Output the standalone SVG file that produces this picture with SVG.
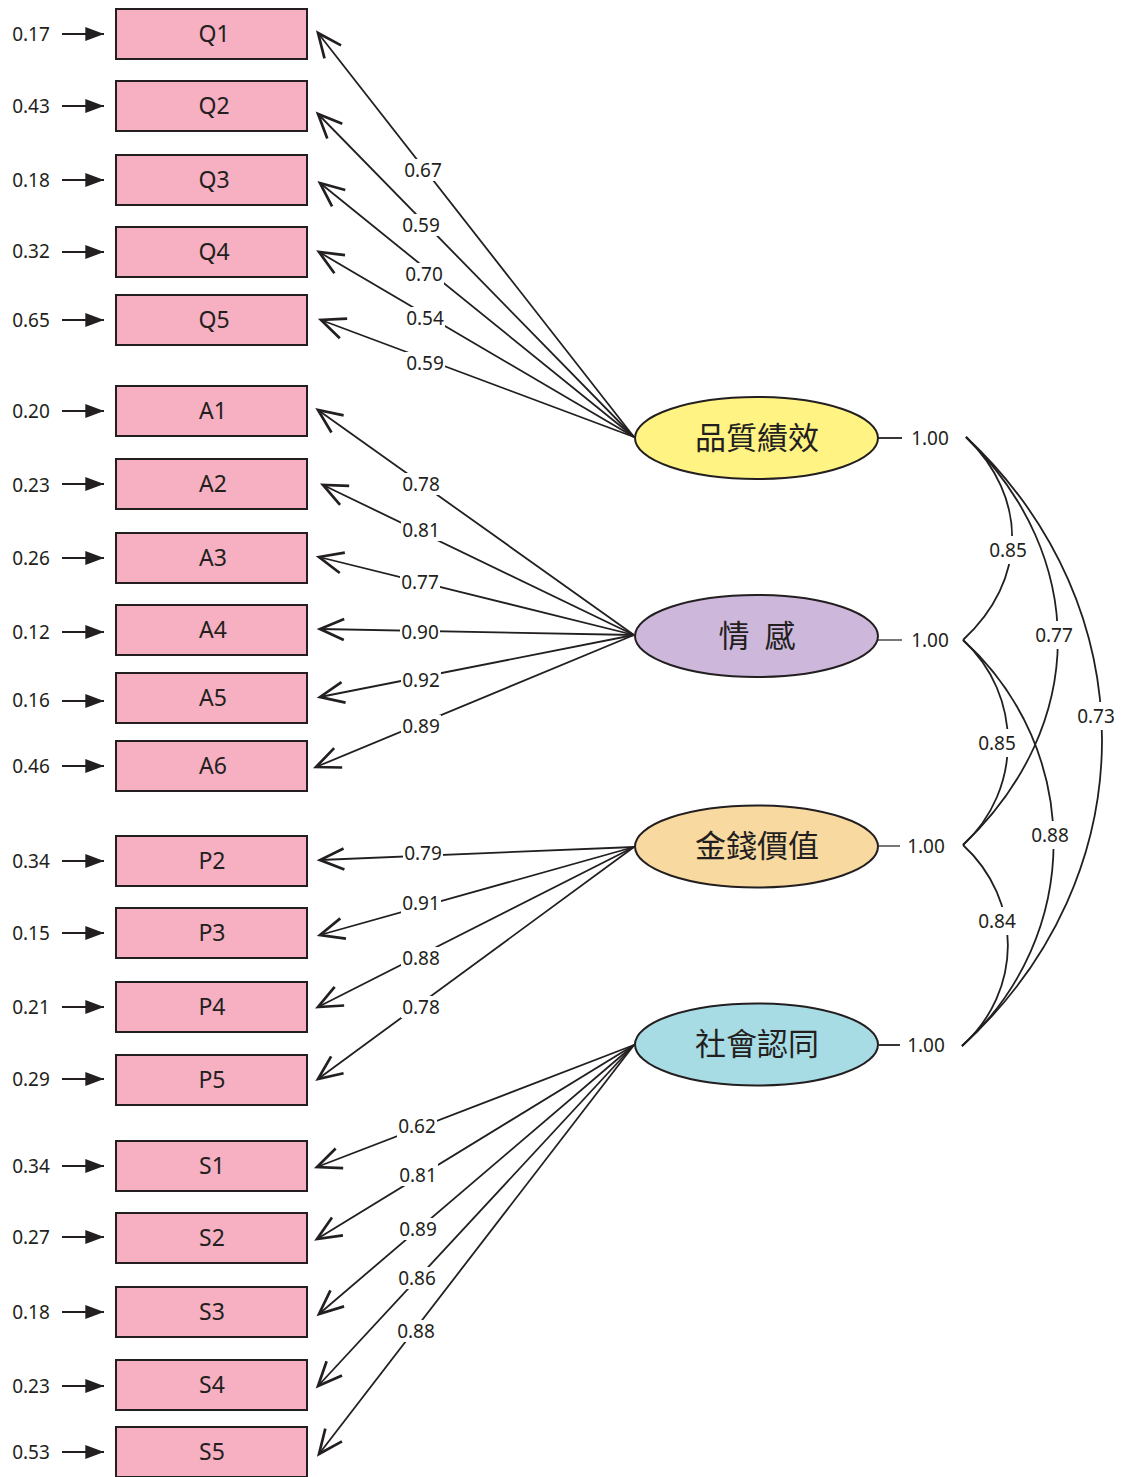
<svg xmlns="http://www.w3.org/2000/svg" width="1123" height="1477" viewBox="0 0 1123 1477">
<defs>
<style>
.box{fill:#F6B0C2;stroke:#231F20;stroke-width:2}
.bt{font-family:"Noto Sans","Liberation Sans",sans-serif;font-size:23px;fill:#231F20;text-anchor:middle}
.num{font-family:"Noto Sans","Liberation Sans",sans-serif;font-size:19px;fill:#231F20;text-anchor:middle}
.lat{font-family:"Noto Sans CJK TC","Noto Sans CJK SC",sans-serif;font-size:31px;fill:#231F20;text-anchor:middle}
.ell{stroke:#231F20;stroke-width:2}
.ln{stroke:#231F20;stroke-width:1.8;fill:none}
.ld{stroke:#231F20;stroke-width:1.8;fill:none;marker-start:url(#open)}
.er{stroke:#231F20;stroke-width:2;fill:none;marker-end:url(#solid)}
.bg{fill:#FFFFFF}
</style>
<marker id="open" markerUnits="userSpaceOnUse" markerWidth="30" markerHeight="30" viewBox="-2 -10 20 20" refX="0" refY="0" orient="auto" overflow="visible">
<path d="M16,-7 L0,0 L16,7" fill="none" stroke="#231F20" stroke-width="1.8"/>
</marker>
<marker id="solid" markerUnits="userSpaceOnUse" markerWidth="20" markerHeight="14" viewBox="0 -6 16 12" refX="16" refY="0" orient="auto" overflow="visible">
<path d="M0,-6 L16,0 L0,6 Z" fill="#231F20"/>
</marker>
</defs>
<rect width="1123" height="1477" fill="#FFFFFF"/>

<g id="connectors">
<!-- error arrows -->
<g id="errors">
<line class="er" x1="62" y1="34" x2="104" y2="34"/>
<line class="er" x1="62" y1="106" x2="104" y2="106"/>
<line class="er" x1="62" y1="180" x2="104" y2="180"/>
<line class="er" x1="62" y1="252" x2="104" y2="252"/>
<line class="er" x1="62" y1="320" x2="104" y2="320"/>
<line class="er" x1="62" y1="411" x2="104" y2="411"/>
<line class="er" x1="62" y1="484" x2="104" y2="484"/>
<line class="er" x1="62" y1="558" x2="104" y2="558"/>
<line class="er" x1="62" y1="632" x2="104" y2="632"/>
<line class="er" x1="62" y1="701" x2="104" y2="701"/>
<line class="er" x1="62" y1="766" x2="104" y2="766"/>
<line class="er" x1="62" y1="861" x2="104" y2="861"/>
<line class="er" x1="62" y1="933" x2="104" y2="933"/>
<line class="er" x1="62" y1="1007" x2="104" y2="1007"/>
<line class="er" x1="62" y1="1079" x2="104" y2="1079"/>
<line class="er" x1="62" y1="1166" x2="104" y2="1166"/>
<line class="er" x1="62" y1="1237" x2="104" y2="1237"/>
<line class="er" x1="62" y1="1312" x2="104" y2="1312"/>
<line class="er" x1="62" y1="1386" x2="104" y2="1386"/>
<line class="er" x1="62" y1="1452" x2="104" y2="1452"/>
</g>
<g id="loadings">
<line class="ld" x1="318" y1="33" x2="634" y2="437"/>
<line class="ld" x1="318" y1="114" x2="634" y2="437"/>
<line class="ld" x1="320" y1="183" x2="634" y2="437"/>
<line class="ld" x1="319" y1="252" x2="634" y2="437"/>
<line class="ld" x1="321" y1="320" x2="634" y2="437"/>
<line class="ld" x1="318" y1="410" x2="634" y2="635"/>
<line class="ld" x1="323" y1="485" x2="634" y2="635"/>
<line class="ld" x1="319" y1="557" x2="634" y2="635"/>
<line class="ld" x1="320" y1="629" x2="634" y2="635"/>
<line class="ld" x1="320" y1="697" x2="634" y2="635"/>
<line class="ld" x1="316" y1="767" x2="634" y2="635"/>
<line class="ld" x1="320" y1="860" x2="634" y2="847"/>
<line class="ld" x1="320" y1="935" x2="634" y2="847"/>
<line class="ld" x1="318" y1="1007" x2="634" y2="847"/>
<line class="ld" x1="318" y1="1079" x2="634" y2="847"/>
<line class="ld" x1="317" y1="1167" x2="634" y2="1045"/>
<line class="ld" x1="317" y1="1239" x2="634" y2="1045"/>
<line class="ld" x1="319" y1="1314" x2="634" y2="1045"/>
<line class="ld" x1="318" y1="1386" x2="634" y2="1045"/>
<line class="ld" x1="319" y1="1454" x2="634" y2="1045"/>
</g>
<g id="variances">
<line class="ln" x1="878" y1="438" x2="902" y2="438"/>
<line x1="878" y1="640" x2="902" y2="640" stroke="#777" stroke-width="2"/>
<line x1="879" y1="846" x2="900" y2="846" stroke="#777" stroke-width="2"/>
<line class="ln" x1="879" y1="1045" x2="900" y2="1045"/>
</g>
<g id="correlations">
<path class="ln" d="M966,437 C1028,497 1028,580 963,640"/>
<path class="ln" d="M966,437 C1089,557 1089,725 963,845"/>
<path class="ln" d="M966,437 C1148,607 1148,876 962,1046"/>
<path class="ln" d="M963,640 C1023,695 1023,790 963,845"/>
<path class="ln" d="M963,640 C1084,750 1084,936 962,1046"/>
<path class="ln" d="M963,845 C1023,900 1023,991 962,1046"/>
</g>
<g id="loading-labels">
<rect class="bg" x="403" y="159" width="40" height="22"/><text class="num" x="423" y="177">0.67</text>
<rect class="bg" x="401" y="214" width="40" height="22"/><text class="num" x="421" y="232">0.59</text>
<rect class="bg" x="404" y="263" width="40" height="22"/><text class="num" x="424" y="281">0.70</text>
<rect class="bg" x="405" y="307" width="40" height="22"/><text class="num" x="425" y="325">0.54</text>
<rect class="bg" x="405" y="352" width="40" height="22"/><text class="num" x="425" y="370">0.59</text>
<rect class="bg" x="401" y="473" width="40" height="22"/><text class="num" x="421" y="491">0.78</text>
<rect class="bg" x="401" y="519" width="40" height="22"/><text class="num" x="421" y="537">0.81</text>
<rect class="bg" x="400" y="571" width="40" height="22"/><text class="num" x="420" y="589">0.77</text>
<rect class="bg" x="400" y="621" width="40" height="22"/><text class="num" x="420" y="639">0.90</text>
<rect class="bg" x="401" y="669" width="40" height="22"/><text class="num" x="421" y="687">0.92</text>
<rect class="bg" x="401" y="715" width="40" height="22"/><text class="num" x="421" y="733">0.89</text>
<rect class="bg" x="403" y="842" width="40" height="22"/><text class="num" x="423" y="860">0.79</text>
<rect class="bg" x="401" y="892" width="40" height="22"/><text class="num" x="421" y="910">0.91</text>
<rect class="bg" x="401" y="947" width="40" height="22"/><text class="num" x="421" y="965">0.88</text>
<rect class="bg" x="401" y="996" width="40" height="22"/><text class="num" x="421" y="1014">0.78</text>
<rect class="bg" x="397" y="1115" width="40" height="22"/><text class="num" x="417" y="1133">0.62</text>
<rect class="bg" x="398" y="1164" width="40" height="22"/><text class="num" x="418" y="1182">0.81</text>
<rect class="bg" x="398" y="1218" width="40" height="22"/><text class="num" x="418" y="1236">0.89</text>
<rect class="bg" x="397" y="1267" width="40" height="22"/><text class="num" x="417" y="1285">0.86</text>
<rect class="bg" x="396" y="1320" width="40" height="22"/><text class="num" x="416" y="1338">0.88</text>
</g>
<g id="correlation-labels">
<rect class="bg" x="988" y="536" width="40" height="28"/><text class="num" x="1008" y="557">0.85</text>
<rect class="bg" x="1034" y="621" width="40" height="28"/><text class="num" x="1054" y="642">0.77</text>
<rect class="bg" x="1076" y="702" width="40" height="28"/><text class="num" x="1096" y="723">0.73</text>
<rect class="bg" x="977" y="729" width="40" height="28"/><text class="num" x="997" y="750">0.85</text>
<rect class="bg" x="1030" y="821" width="40" height="28"/><text class="num" x="1050" y="842">0.88</text>
<rect class="bg" x="977" y="907" width="40" height="28"/><text class="num" x="997" y="928">0.84</text>
</g>
</g>

<g id="error-labels">
<text class="num" x="31" y="41">0.17</text>
<text class="num" x="31" y="113">0.43</text>
<text class="num" x="31" y="187">0.18</text>
<text class="num" x="31" y="258">0.32</text>
<text class="num" x="31" y="327">0.65</text>
<text class="num" x="31" y="418">0.20</text>
<text class="num" x="31" y="492">0.23</text>
<text class="num" x="31" y="565">0.26</text>
<text class="num" x="31" y="639">0.12</text>
<text class="num" x="31" y="707">0.16</text>
<text class="num" x="31" y="773">0.46</text>
<text class="num" x="31" y="868">0.34</text>
<text class="num" x="31" y="940">0.15</text>
<text class="num" x="31" y="1014">0.21</text>
<text class="num" x="31" y="1086">0.29</text>
<text class="num" x="31" y="1173">0.34</text>
<text class="num" x="31" y="1244">0.27</text>
<text class="num" x="31" y="1319">0.18</text>
<text class="num" x="31" y="1393">0.23</text>
<text class="num" x="31" y="1459">0.53</text>
</g>

<g id="Q1"><rect class="box" x="116" y="9" width="191" height="50"/><text class="bt" x="214" y="42">Q1</text></g>
<g id="Q2"><rect class="box" x="116" y="81" width="191" height="50"/><text class="bt" x="214" y="114">Q2</text></g>
<g id="Q3"><rect class="box" x="116" y="155" width="191" height="50"/><text class="bt" x="214" y="188">Q3</text></g>
<g id="Q4"><rect class="box" x="116" y="227" width="191" height="50"/><text class="bt" x="214" y="260">Q4</text></g>
<g id="Q5"><rect class="box" x="116" y="295" width="191" height="50"/><text class="bt" x="214" y="328">Q5</text></g>
<g id="A1"><rect class="box" x="116" y="386" width="191" height="50"/><text class="bt" x="213" y="419">A1</text></g>
<g id="A2"><rect class="box" x="116" y="459" width="191" height="50"/><text class="bt" x="213" y="492">A2</text></g>
<g id="A3"><rect class="box" x="116" y="533" width="191" height="50"/><text class="bt" x="213" y="566">A3</text></g>
<g id="A4"><rect class="box" x="116" y="605" width="191" height="50"/><text class="bt" x="213" y="638">A4</text></g>
<g id="A5"><rect class="box" x="116" y="673" width="191" height="50"/><text class="bt" x="213" y="706">A5</text></g>
<g id="A6"><rect class="box" x="116" y="741" width="191" height="50"/><text class="bt" x="213" y="774">A6</text></g>
<g id="P2"><rect class="box" x="116" y="836" width="191" height="50"/><text class="bt" x="212" y="869">P2</text></g>
<g id="P3"><rect class="box" x="116" y="908" width="191" height="50"/><text class="bt" x="212" y="941">P3</text></g>
<g id="P4"><rect class="box" x="116" y="982" width="191" height="50"/><text class="bt" x="212" y="1015">P4</text></g>
<g id="P5"><rect class="box" x="116" y="1055" width="191" height="50"/><text class="bt" x="212" y="1088">P5</text></g>
<g id="S1"><rect class="box" x="116" y="1141" width="191" height="50"/><text class="bt" x="212" y="1174">S1</text></g>
<g id="S2"><rect class="box" x="116" y="1213" width="191" height="50"/><text class="bt" x="212" y="1246">S2</text></g>
<g id="S3"><rect class="box" x="116" y="1287" width="191" height="50"/><text class="bt" x="212" y="1320">S3</text></g>
<g id="S4"><rect class="box" x="116" y="1360" width="191" height="50"/><text class="bt" x="212" y="1393">S4</text></g>
<g id="S5"><rect class="box" x="116" y="1427" width="191" height="50"/><text class="bt" x="212" y="1460">S5</text></g>

<g id="F1"><ellipse class="ell" cx="756.5" cy="438" rx="121.5" ry="41" fill="#FFF383"/><text class="lat" x="757" y="449">品質績效</text></g>
<g id="F2"><ellipse class="ell" cx="756.5" cy="636" rx="121.5" ry="41" fill="#CDB8DC"/><text class="lat" x="757" y="647" word-spacing="8">情 感</text></g>
<g id="F3"><ellipse class="ell" cx="756.5" cy="846.5" rx="121.5" ry="41" fill="#F8D9A0"/><text class="lat" x="757" y="857">金錢價值</text></g>
<g id="F4"><ellipse class="ell" cx="756.5" cy="1044.5" rx="121.5" ry="41" fill="#A8DCE5"/><text class="lat" x="757" y="1055">社會認同</text></g>

<g id="variance-labels">
<text class="num" x="930" y="445">1.00</text>
<text class="num" x="930" y="647">1.00</text>
<text class="num" x="926" y="853">1.00</text>
<text class="num" x="926" y="1052">1.00</text>
</g>
</svg>
